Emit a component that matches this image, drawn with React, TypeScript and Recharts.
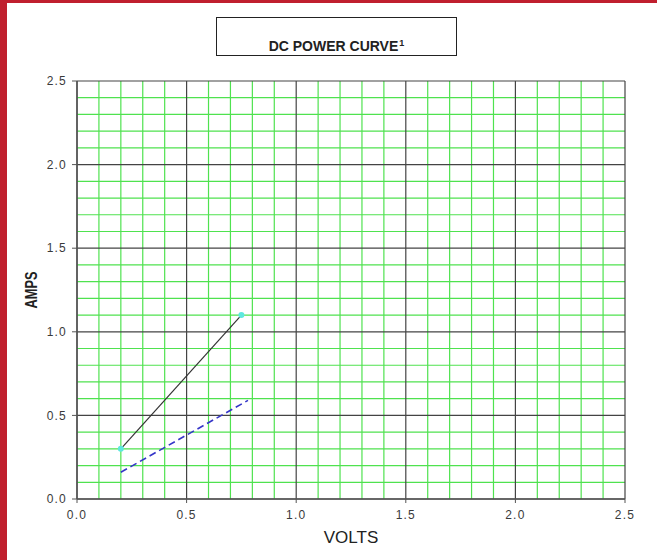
import React from 'react';
import { LineChart, Line, XAxis, YAxis, ReferenceLine } from 'recharts';

// axis ticks (major) and minor grid steps
const majorTicks = [0, 0.5, 1.0, 1.5, 2.0, 2.5];
const minorTicks = [
  0.1, 0.2, 0.3, 0.4, 0.6, 0.7, 0.8, 0.9, 1.1, 1.2, 1.3, 1.4,
  1.6, 1.7, 1.8, 1.9, 2.1, 2.2, 2.3, 2.4,
];

// series
const solidSeries = [
  { volts: 0.2, amps: 0.3 },
  { volts: 0.75, amps: 1.1 },
];
const dashedSeries = [
  { volts: 0.2, amps: 0.16 },
  { volts: 0.78, amps: 0.59 },
];

const W = 657;
const H = 560;
const font = '"Liberation Sans", Arial, sans-serif';
const tickStyle = { fill: '#3a3a3a', fontSize: 12, fontFamily: font, letterSpacing: 1.2 };

export default function App() {
  return (
    <div
      style={{
        position: 'absolute',
        left: 0,
        top: 0,
        width: W,
        height: H,
        background: '#fff',
        overflow: 'hidden',
      }}
    >
      {/* red frame */}
      <div style={{ position: 'absolute', left: 0, top: 0, width: 7, height: H, background: '#c01f2e' }} />
      <div style={{ position: 'absolute', left: 0, top: 0, width: W, height: 3, background: '#c01f2e' }} />

      {/* title box */}
      <div
        style={{
          position: 'absolute',
          left: 216,
          top: 17,
          width: 239,
          height: 37,
          border: '1px solid #222',
          fontFamily: font,
          fontWeight: 'bold',
          fontSize: 14,
          color: '#222',
          textAlign: 'center',
          lineHeight: '14px',
          boxSizing: 'content-box',
        }}
      >
        <div style={{ position: 'absolute', left: 0, right: 0, top: 21 }}>
          DC POWER CURVE<sup style={{ fontSize: 9, verticalAlign: 'top', lineHeight: '9px', marginLeft: 1 }}>1</sup>
        </div>
      </div>

      <div style={{ position: 'absolute', left: 0, top: 0 }}>
        <LineChart width={W} height={H} margin={{ top: 81, right: 32, bottom: 31, left: 37 }}>
          <XAxis
            type="number"
            dataKey="volts"
            domain={[0, 2.5]}
            ticks={majorTicks}
            tickFormatter={(v: number) => v.toFixed(1)}
            allowDataOverflow
            height={30}
            axisLine={{ stroke: '#555', strokeWidth: 1.5 }}
            tickLine={{ stroke: '#555' }}
            tickSize={4}
            tickMargin={7}
            tick={tickStyle}
          />
          <YAxis
            type="number"
            dataKey="amps"
            domain={[0, 2.5]}
            ticks={majorTicks}
            tickFormatter={(v: number) => v.toFixed(1)}
            allowDataOverflow
            width={40}
            axisLine={{ stroke: '#555', strokeWidth: 1.5 }}
            tickLine={{ stroke: '#555' }}
            tickSize={5}
            tickMargin={5}
            tick={tickStyle}
          />

          {minorTicks.map((v) => (
            <ReferenceLine key={'mx' + v} x={v} stroke="#4fe24f" strokeWidth={1.2} />
          ))}
          {minorTicks.map((v) => (
            <ReferenceLine key={'my' + v} y={v} stroke="#4fe24f" strokeWidth={1.2} />
          ))}
          {majorTicks.map((v) => (
            <ReferenceLine key={'Mx' + v} x={v} stroke="#444" strokeWidth={1.2} />
          ))}
          {majorTicks.map((v) => (
            <ReferenceLine key={'My' + v} y={v} stroke="#444" strokeWidth={1.2} />
          ))}

          <Line
            data={solidSeries}
            dataKey="amps"
            type="linear"
            stroke="#333"
            strokeWidth={1.2}
            dot={{ r: 3, fill: '#5ee8df', stroke: 'none' }}
            isAnimationActive={false}
          />
          <Line
            data={dashedSeries}
            dataKey="amps"
            type="linear"
            stroke="#3535c8"
            strokeWidth={1.6}
            strokeDasharray="7 4"
            dot={false}
            isAnimationActive={false}
          />

          <text
            x={351}
            y={543}
            textAnchor="middle"
            fontFamily={font}
            fontSize={17}
            fill="#222"
          >
            VOLTS
          </text>
          <text
            x={37}
            y={290}
            textAnchor="middle"
            fontFamily={font}
            fontSize={16}
            fontWeight={600}
            fill="#222"
            transform="rotate(-90 37 290)"
            textLength={37}
            lengthAdjust="spacingAndGlyphs"
          >
            AMPS
          </text>
        </LineChart>
      </div>
    </div>
  );
}
